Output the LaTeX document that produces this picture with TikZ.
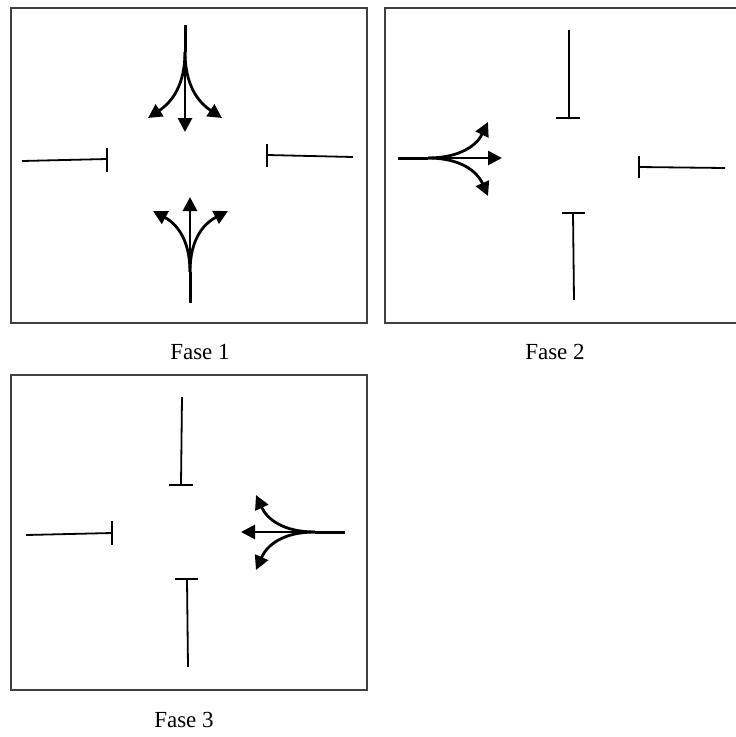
\documentclass[tikz,border=0pt]{standalone}
\usepackage{fontspec}
\setmainfont{Liberation Serif}
\usetikzlibrary{arrows.meta}
\begin{document}
\begin{tikzpicture}[x=1pt,y=-1pt,
 frame/.style={draw=black!75, line width=1.6pt},
 bar/.style={draw=black, line width=1.8pt},
 stem/.style={draw=black, line width=3pt},
 flow/.style={draw=black, line width=2.8pt, -{Triangle[length=14pt,width=14pt]}},
 captxt/.style={font=\fontsize{23}{27}\selectfont, inner sep=0pt}]
\useasboundingbox (0,0) rectangle (736,737);
% ---------- Panel 1 ----------
\draw[frame] (11,8) rectangle (367,323);
\node[captxt] (c1) at (200,352) {Fase 1};
% top group (going down)
\coordinate (t1s) at (185,25);
\coordinate (t1b) at (185,52);
\draw[stem] (t1s) -- (t1b);
\draw[flow] (t1b) -- (185,132);
\draw[flow] (t1b) .. controls (185,85) and (172,102) .. (148,118);
\draw[flow] (t1b) .. controls (185,85) and (198,102) .. (222,118);
% bottom group (going up)
\coordinate (b1s) at (190,303);
\coordinate (b1b) at (190,272);
\draw[stem] (b1s) -- (b1b);
\draw[flow] (b1b) -- (190,197);
\draw[flow] (b1b) .. controls (190,240) and (177,224) .. (153,211);
\draw[flow] (b1b) .. controls (190,240) and (203,224) .. (228,211);
% stop bars
\draw[bar] (22,161) -- (107,159);
\draw[bar] (107,148) -- (107,172);
\draw[bar] (267,144) -- (267,167);
\draw[bar] (267,155) -- (353,157);
% ---------- Panel 2 ----------
\draw[frame] (736,8) -- (385,8) -- (385,323) -- (736,323);
\node[captxt] (c2) at (555,352) {Fase 2};
\draw[bar] (569,30) -- (569,118);
\draw[bar] (556,118) -- (580,118);
\draw[bar] (639,156) -- (639,178);
\draw[bar] (639,167) -- (725,168);
\draw[bar] (562,213) -- (585,213);
\draw[bar] (573,213) -- (574,300);
% left group (going right)
\coordinate (l2s) at (398,158);
\coordinate (l2b) at (428,158);
\draw[stem] (l2s) -- (l2b);
\draw[flow] (l2b) -- (502,158);
\draw[flow] (l2b) .. controls (460,158) and (477,145) .. (488,122);
\draw[flow] (l2b) .. controls (460,158) and (477,171) .. (488,196);
% ---------- Panel 3 ----------
\draw[frame] (11,375) rectangle (367,690);
\node[captxt] (c3) at (184,720) {Fase 3};
\draw[bar] (182,397) -- (181,485);
\draw[bar] (169,485) -- (193,485);
\draw[bar] (26,535) -- (112,533);
\draw[bar] (112,521) -- (112,545);
\draw[bar] (175,579) -- (198,579);
\draw[bar] (187,579) -- (188,667);
% right group (going left)
\coordinate (r3s) at (345,532);
\coordinate (r3b) at (315,532);
\draw[stem] (r3s) -- (r3b);
\draw[flow] (r3b) -- (241,532);
\draw[flow] (r3b) .. controls (283,532) and (267,519) .. (256,495);
\draw[flow] (r3b) .. controls (283,532) and (267,545) .. (256,570);
\end{tikzpicture}
\end{document}
